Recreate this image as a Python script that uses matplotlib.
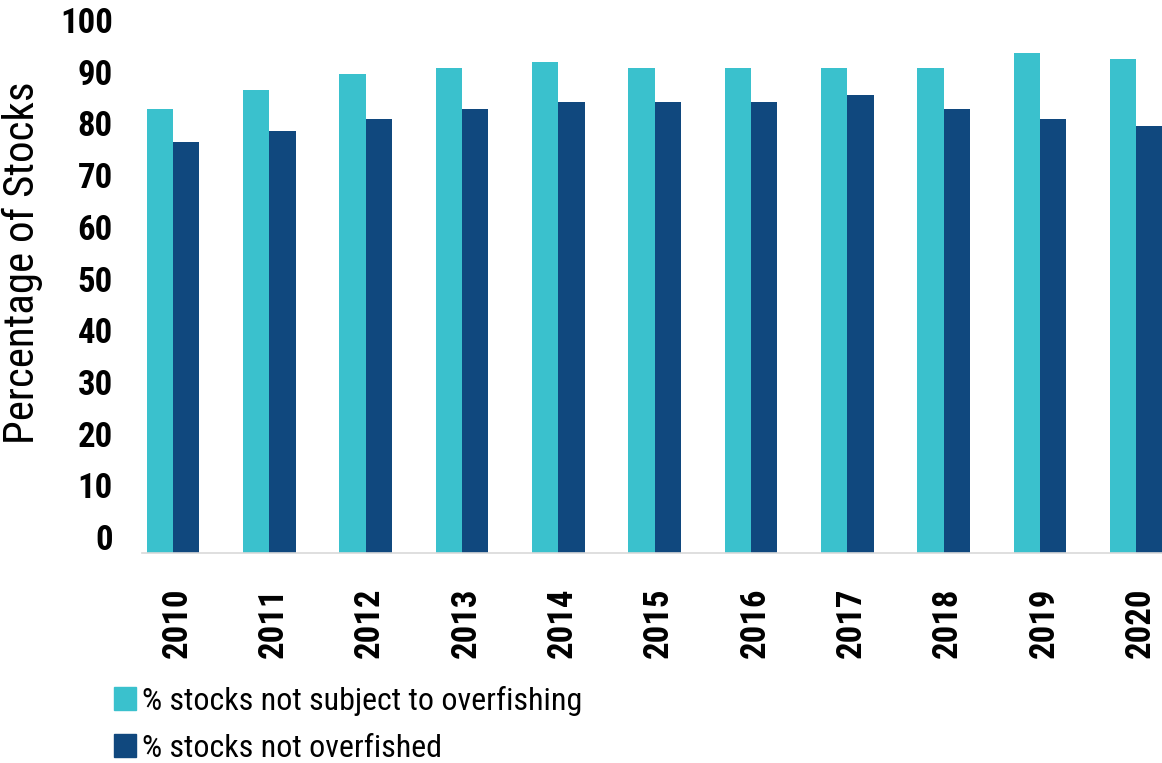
import matplotlib.pyplot as plt
import numpy as np
from matplotlib.transforms import ScaledTranslation
from matplotlib.patches import Patch

years = ["2010", "2011", "2012", "2013", "2014", "2015",
         "2016", "2017", "2018", "2019", "2020"]
not_overfishing = [85.8, 89.6, 92.6, 93.8, 95.0, 93.8, 93.8, 93.8, 93.8, 96.8, 95.6]
not_overfished = [79.5, 81.6, 83.9, 85.8, 87.2, 87.2, 87.2, 88.6, 85.8, 84.0, 82.6]
y_ticks = [0, 10, 20, 30, 40, 50, 60, 70, 80, 90, 100]

LIGHT = "#3AC1CD"
DARK = "#10487E"

plt.rcParams["font.family"] = ["Roboto Condensed", "DejaVu Sans"]

fig = plt.figure(figsize=(11.62, 7.63), dpi=100)
ax = fig.add_axes([0.1222, 0.2752, 0.8778, 0.6776])

x = np.arange(len(years))
w = 0.273
ax.bar(x - w / 2, not_overfishing, w, color=LIGHT)
ax.bar(x + w / 2, not_overfished, w, color=DARK)

ax.set_xlim(-0.322, 10.265)
ax.set_ylim(0, 100)

for side in ["top", "right", "left"]:
    ax.spines[side].set_visible(False)
ax.spines["bottom"].set_color("#D9D9D9")
ax.spines["bottom"].set_linewidth(1.2)

# year labels sit a little right of the group centre
ax.set_xticks(x + 0.04, years, rotation=90, fontsize=25, fontweight="bold")
ax.tick_params(axis="x", length=0, pad=25)

# y labels are drawn about 3 units above their ticks, as in the source
ax.set_yticks(y_ticks, [str(v) for v in y_ticks], fontsize=25, fontweight="bold")
ax.tick_params(axis="y", length=0, pad=21)
offset = ScaledTranslation(0, 0.16, fig.dpi_scale_trans)
for lbl in ax.get_yticklabels():
    lbl.set_transform(lbl.get_transform() + offset)

fig.text(0.019, 0.655, "Percentage of Stocks", rotation=90, fontsize=31,
         ha="center", va="center")

handles = [Patch(color=LIGHT), Patch(color=DARK)]
fig.legend(handles, ["% stocks not subject to overfishing", "% stocks not overfished"],
           loc="upper left", bbox_to_anchor=(114 / 1162, 1 - 686 / 763),
           frameon=False, fontsize=23, handlelength=0.69, handleheight=0.72,
           handletextpad=0.18, labelspacing=0.55, borderpad=0, borderaxespad=0)

fig.savefig("out.png", dpi=100)
